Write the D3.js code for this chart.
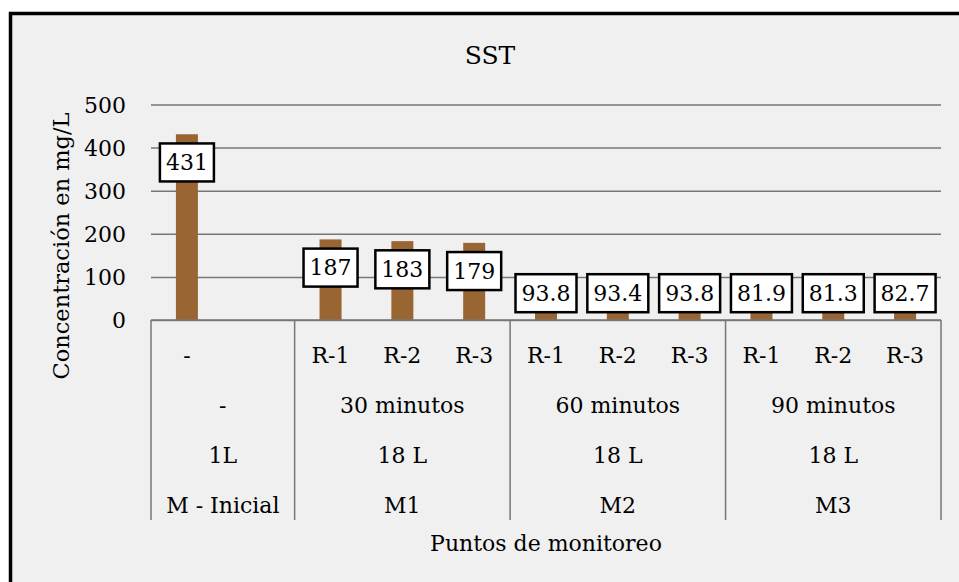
<!DOCTYPE html>
<html>
<head>
<meta charset="utf-8">
<script src="https://cdn.jsdelivr.net/npm/d3@7"></script>
<style>
  body { margin: 0; background: #fff; }
  text { font-family: "DejaVu Serif", serif; fill: #000; }
</style>
</head>
<body>
<div id="chart"></div>
<script>
// values (second slot of the first group is empty)
const values = [431, null, 187, 183, 179, 93.8, 93.4, 93.8, 81.9, 81.3, 82.7];
const labels = ["431", "", "187", "183", "179", "93.8", "93.4", "93.8", "81.9", "81.3", "82.7"];
const replicas = ["-", "", "R-1", "R-2", "R-3", "R-1", "R-2", "R-3", "R-1", "R-2", "R-3"];
const groupSizes = [2, 3, 3, 3];
const tiempos = ["-", "30 minutos", "60 minutos", "90 minutos"];
const volumenes = ["1L", "18 L", "18 L", "18 L"];
const puntos = ["M - Inicial", "M1", "M2", "M3"];
const yTicks = [0, 100, 200, 300, 400, 500];

const W = 959, H = 582;
const plot = { left: 151, right: 941, top: 104.5, bottom: 320 };

const svg = d3
  .select("#chart")
  .append("svg")
  .attr("width", W)
  .attr("height", H);

// chart frame
svg
  .append("rect")
  .attr("x", 10.5)
  .attr("y", 13.5)
  .attr("width", W + 20)
  .attr("height", H + 20)
  .style("fill", "#f0f0f0")
  .style("stroke", "#000")
  .style("stroke-width", 3.5);

const x = d3
  .scaleBand()
  .domain(d3.range(values.length))
  .range([plot.left, plot.right]);

const y = d3
  .scaleLinear()
  .domain([0, 500])
  .range([plot.bottom, plot.top]);

// gridlines + y labels
const yAxis = svg
  .append("g")
  .attr("transform", "translate(" + plot.left + ",0)")
  .call(
    d3.axisLeft(y)
      .tickValues(yTicks)
      .tickSize(-(plot.right - plot.left))
      .tickPadding(25)
  );
yAxis.select(".domain").remove();
yAxis.selectAll(".tick line")
  .style("stroke", "#777")
  .style("stroke-width", 1.5);
yAxis.selectAll(".tick text")
  .style("font-size", "22px")
  .style("font-family", "DejaVu Serif")
  .attr("dy", "0.35em");

// bars
const barW = 22;
svg
  .selectAll(".bar")
  .data(values.map((v, i) => ({ v, i })).filter(d => d.v != null))
  .enter()
  .append("rect")
  .attr("class", "bar")
  .attr("x", d => x(d.i) + x.bandwidth() / 2 - barW / 2)
  .attr("y", d => y(d.v))
  .attr("width", barW)
  .attr("height", d => y(0) - y(d.v))
  .style("fill", "#996633");

// category axis lines
const axisColor = "#777";
svg
  .append("line")
  .attr("x1", plot.left).attr("x2", plot.right)
  .attr("y1", plot.bottom).attr("y2", plot.bottom)
  .style("stroke", axisColor).style("stroke-width", 1.5);

let bounds = [0];
groupSizes.forEach(s => bounds.push(bounds[bounds.length - 1] + s));
bounds.forEach(b => {
  const bx = b < values.length ? x(b) : x(values.length - 1) + x.bandwidth();
  svg
    .append("line")
    .attr("x1", bx).attr("x2", bx)
    .attr("y1", plot.bottom).attr("y2", 520)
    .style("stroke", axisColor).style("stroke-width", 1.5);
});

// first level labels
svg
  .selectAll(".rep")
  .data(replicas)
  .enter()
  .append("text")
  .attr("x", (d, i) => x(i) + x.bandwidth() / 2)
  .attr("y", 355)
  .attr("dy", "0.35em")
  .attr("text-anchor", "middle")
  .style("font-size", "22px")
  .text(d => d);

// group level labels
const groupCenter = gi => {
  const a = x(bounds[gi]);
  const b = x(bounds[gi + 1] - 1) + x.bandwidth();
  return (a + b) / 2;
};
[[tiempos, 405], [volumenes, 455], [puntos, 505]].forEach(([arr, yy]) => {
  svg
    .append("g")
    .selectAll("text")
    .data(arr)
    .enter()
    .append("text")
    .attr("x", (d, i) => groupCenter(i))
    .attr("y", yy)
    .attr("dy", "0.35em")
    .attr("text-anchor", "middle")
    .style("font-size", "22px")
    .text(d => d);
});

// data labels in boxes
const boxH = 40;
const lab = svg
  .selectAll(".lab")
  .data(values.map((v, i) => ({ v, i, t: labels[i] })).filter(d => d.v != null))
  .enter()
  .append("g")
  .attr("class", "lab");

lab.append("text")
  .attr("x", d => x(d.i) + x.bandwidth() / 2)
  .attr("y", d => Math.min(y(d.v) + 8, plot.bottom - 7 - boxH) + boxH / 2)
  .attr("dy", "0.35em")
  .attr("text-anchor", "middle")
  .style("font-size", "22px")
  .text(d => d.t);

lab.each(function() {
  const g = d3.select(this);
  const bb = g.select("text").node().getBBox();
  const cy = bb.y + bb.height / 2;
  g.insert("rect", "text")
    .attr("x", bb.x - 6)
    .attr("y", cy - boxH / 2 + 1)
    .attr("width", bb.width + 12)
    .attr("height", boxH - 2)
    .style("fill", "#fff")
    .style("stroke", "#000")
    .style("stroke-width", 2.5);
});

// titles
svg.append("text")
  .attr("x", 490).attr("y", 55)
  .attr("dy", "0.35em")
  .attr("text-anchor", "middle")
  .style("font-size", "25px")
  .text("SST");

svg.append("text")
  .attr("transform", "translate(61,246) rotate(-90)")
  .attr("dy", "0.35em")
  .attr("text-anchor", "middle")
  .style("font-size", "22.5px")
  .text("Concentración en mg/L");

svg.append("text")
  .attr("x", (plot.left + plot.right) / 2)
  .attr("y", 543)
  .attr("dy", "0.35em")
  .attr("text-anchor", "middle")
  .style("font-size", "22px")
  .text("Puntos de monitoreo");
</script>
</body>
</html>
